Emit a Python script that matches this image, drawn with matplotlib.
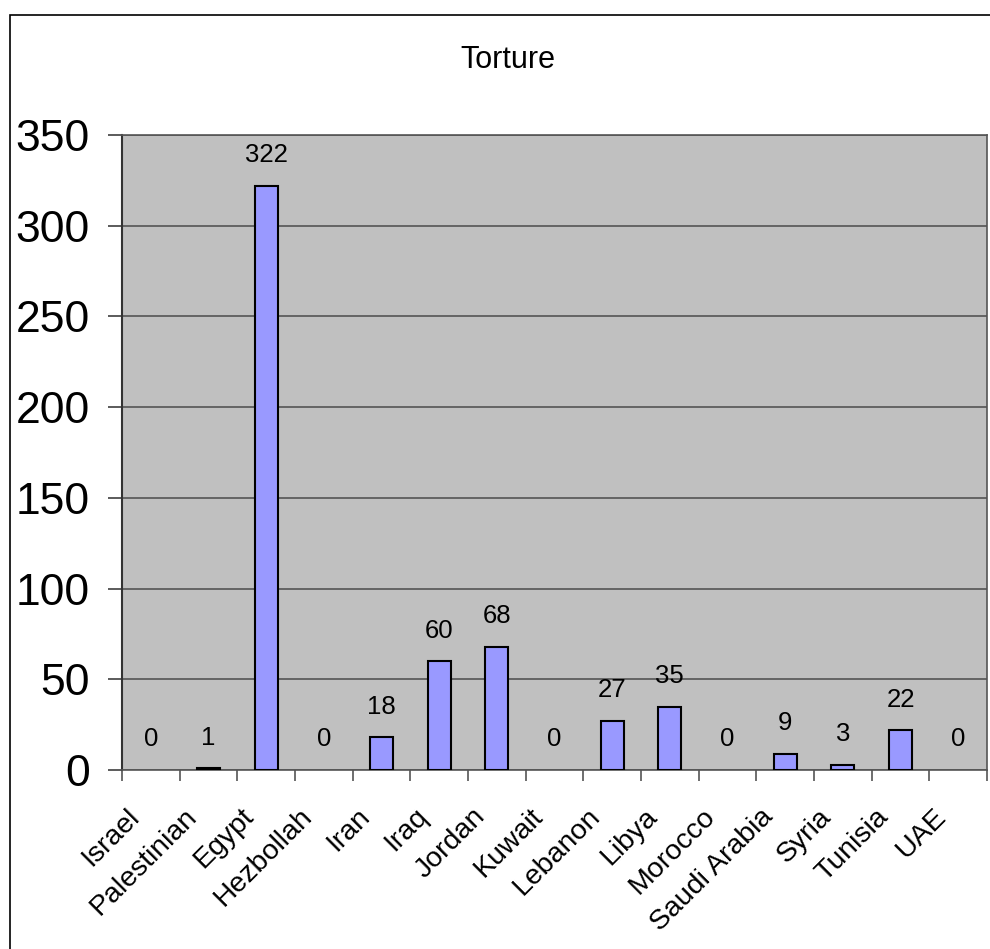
import numpy as np
import matplotlib.pyplot as plt
from matplotlib.patches import Rectangle

plt.rcParams['font.family'] = ['Liberation Sans', 'DejaVu Sans']

countries = ["Israel", "Palestinian", "Egypt", "Hezbollah", "Iran", "Iraq", "Jordan",
             "Kuwait", "Lebanon", "Libya", "Morocco", "Saudi Arabia", "Syria", "Tunisia", "UAE"]
counts = [0, 1, 322, 0, 18, 60, 68, 0, 27, 35, 0, 9, 3, 22, 0]

fig = plt.figure(figsize=(9.9, 9.49), dpi=100)
ax = fig.add_axes([122/990, 1-770/949, 865/990, 635/949])

x = np.arange(len(countries))
lw = [1.5 if v > 0 else 0 for v in counts]
ax.bar(x, counts, width=0.4, color='#9999FF', edgecolor='black', linewidth=lw, zorder=3)
ax.set_facecolor('#C0C0C0')
ax.set_xlim(-0.5, len(countries)-0.5)
ax.set_ylim(0, 350)
ax.set_yticks(np.arange(0, 351, 50))
ax.tick_params(axis='y', labelsize=32, length=10, width=1.2, pad=13, color='#404040')
ax.grid(axis='y', color='#555555', linewidth=1.2, zorder=1)

# category boundary ticks on x
ax.set_xticks(np.arange(-0.5, len(countries), 1))
ax.set_xticklabels([])
ax.tick_params(axis='x', length=8, width=1.2, color='#555555')
for i, name in enumerate(countries):
    ax.annotate(name, (i, 0), xycoords='data', xytext=(-18, -24), textcoords='offset points',
                rotation=45, ha='right', va='top', rotation_mode='anchor', fontsize=20.5)

for i, v in enumerate(counts):
    ax.annotate(str(v), (i, v), xytext=(0, 22), textcoords='offset points',
                ha='center', va='center', fontsize=18.5)

for s in ['top', 'right', 'bottom']:
    ax.spines[s].set_color('#555555')
    ax.spines[s].set_linewidth(1.2)
ax.spines['left'].set_color('#333333')
ax.spines['left'].set_linewidth(1.5)

fig.text(508/990, 1-60/949, "Torture", ha='center', va='center', fontsize=22)
fig.patches.append(Rectangle((10/990, -0.05), 1.0, 1-15/949+0.05, transform=fig.transFigure,
                             fill=False, edgecolor='black', linewidth=1.2))

plt.savefig('out.png', dpi=100)
